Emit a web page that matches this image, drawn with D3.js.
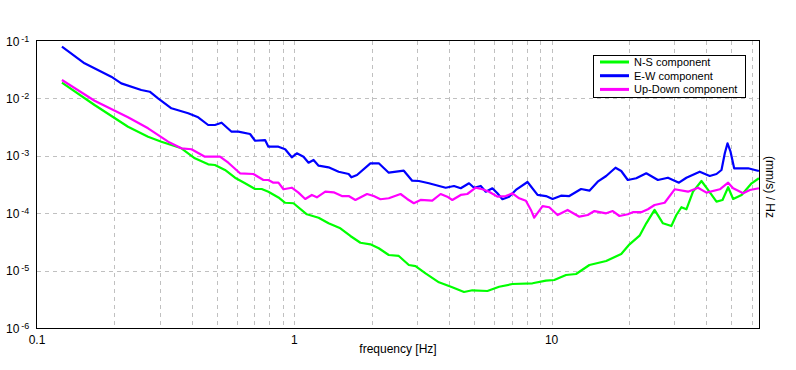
<!DOCTYPE html>
<html>
<head>
<meta charset="utf-8">
<script src="https://cdn.jsdelivr.net/npm/d3@7"></script>
<style>
  body { margin: 0; background: #fff; }
  svg { display: block; font-family: "Liberation Sans", Arial, sans-serif; }
</style>
</head>
<body>
<div id="graph"></div>
<script>
// frequency [Hz], amplitude
const nsData = [
  [0.125, 0.01877], [0.1674, 0.00767], [0.2258, 0.00321], [0.2702, 0.00215], [0.3044, 0.00176],
  [0.3642, 0.00135], [0.4107, 0.000905], [0.4628, 0.000711], [0.4914, 0.000691], [0.5379, 0.000566],
  [0.5883, 0.000415], [0.6435, 0.000332], [0.704, 0.000264], [0.7469, 0.000264], [0.7931, 0.000237],
  [0.8677, 0.000188], [0.9216, 0.000152], [0.9928, 0.000149], [1.119, 0.0000957], [1.243, 0.0000835],
  [1.359, 0.0000667], [1.51, 0.0000546], [1.652, 0.0000401], [1.807, 0.0000306], [1.976, 0.0000287],
  [2.13, 0.0000245], [2.329, 0.0000187], [2.548, 0.000018], [2.788, 0.0000125], [2.96, 0.000012],
  [3.237, 0.00000897], [3.649, 0.00000625], [4.112, 0.00000512], [4.567, 0.00000424], [4.92, 0.00000454],
  [5.63, 0.00000441], [6.254, 0.00000524], [7.046, 0.00000584], [8.431, 0.00000601], [9.51, 0.00000667],
  [10.24, 0.00000686], [11.38, 0.00000838], [12.45, 0.00000873], [14.03, 0.0000125], [16.3, 0.0000147],
  [18.65, 0.0000195], [20.09, 0.0000287], [21.98, 0.0000406], [23.34, 0.0000667], [25.14, 0.000114],
  [27.09, 0.0000667], [29.21, 0.0000598], [30.55, 0.000093], [31.96, 0.000127], [33.42, 0.000117],
  [35.46, 0.000237], [38.24, 0.000364], [40.57, 0.000254], [43.75, 0.000159], [46.17, 0.00017],
  [48.56, 0.000283], [50.78, 0.000177], [54.76, 0.000208], [59.9, 0.000332], [63.94, 0.000406]
];

const ewData = [
  [0.125, 0.0796], [0.153, 0.0409], [0.1943, 0.0239], [0.2126, 0.0183], [0.2543, 0.014], [0.2743, 0.01308],
  [0.2955, 0.01004], [0.333, 0.00672], [0.3869, 0.0055], [0.4231, 0.00469], [0.4628, 0.00344],
  [0.4914, 0.00344], [0.5217, 0.00377], [0.5706, 0.00263], [0.606, 0.00263], [0.6731, 0.0024],
  [0.704, 0.00183], [0.77, 0.00188], [0.7931, 0.00144], [0.8677, 0.00144], [0.9216, 0.0013],
  [0.9778, 0.000942], [1.023, 0.001105], [1.086, 0.000965], [1.136, 0.000758], [1.188, 0.000845],
  [1.243, 0.000672], [1.359, 0.00063], [1.487, 0.000528], [1.627, 0.000482], [1.667, 0.000422],
  [1.753, 0.000463], [1.976, 0.00074], [2.13, 0.00074], [2.329, 0.000508], [2.665, 0.00055],
  [2.872, 0.000368], [3.05, 0.000364], [3.336, 0.000332], [3.876, 0.000278], [4.176, 0.000298],
  [4.435, 0.000272], [4.777, 0.000332], [4.996, 0.000278], [5.306, 0.000298], [5.549, 0.000237],
  [5.888, 0.000272], [6.158, 0.000222], [6.442, 0.000175], [6.84, 0.000194], [7.264, 0.000254],
  [8.062, 0.00035], [8.82, 0.000208], [9.51, 0.000199], [10.09, 0.000177], [10.88, 0.000202],
  [11.72, 0.000199], [13.02, 0.000264], [14.03, 0.000247], [15.11, 0.000354], [16.3, 0.000445],
  [17.72, 0.00062], [18.65, 0.000544], [19.78, 0.000379], [21.33, 0.000406], [23.34, 0.000496],
  [25.9, 0.000379], [28.33, 0.000415], [31.27, 0.00034], [33.42, 0.000415], [37.65, 0.000528],
  [41.19, 0.000445], [43.75, 0.000482], [45.75, 0.000566], [47.13, 0.001105], [48.29, 0.001651],
  [49.61, 0.001178], [51.24, 0.000606], [58.08, 0.000606], [61.68, 0.000566], [63.94, 0.000544]
];

const udData = [
  [0.125, 0.0209], [0.1674, 0.00912], [0.2258, 0.00469], [0.2702, 0.00301], [0.3233, 0.00176],
  [0.3642, 0.00135], [0.3984, 0.0013], [0.4494, 0.000965], [0.5142, 0.000965], [0.554, 0.000758],
  [0.6153, 0.000496], [0.6935, 0.000482], [0.7584, 0.000379], [0.7931, 0.000379], [0.8297, 0.00034],
  [0.8677, 0.00034], [0.9077, 0.000261], [0.9778, 0.000278], [1.038, 0.000228], [1.103, 0.000177],
  [1.17, 0.000208], [1.224, 0.000189], [1.32, 0.000237], [1.422, 0.000231], [1.531, 0.000199],
  [1.627, 0.000199], [1.728, 0.00017], [1.917, 0.000216], [2.036, 0.000199], [2.162, 0.000175],
  [2.329, 0.000182], [2.588, 0.000216], [2.746, 0.000177], [2.915, 0.000149], [3.096, 0.00017],
  [3.437, 0.000165], [3.705, 0.000216], [3.931, 0.000194], [4.112, 0.00017], [4.435, 0.000208],
  [4.704, 0.000216], [5.074, 0.000278], [5.383, 0.000261], [5.715, 0.000237], [6.158, 0.000194],
  [6.64, 0.000199], [7.046, 0.000222], [7.483, 0.000182], [7.946, 0.000165], [8.311, 0.000114],
  [8.561, 0.0000835], [9.224, 0.000133], [9.795, 0.000127], [10.55, 0.000093], [11.54, 0.000114],
  [12.82, 0.0000869], [13.82, 0.000093], [14.67, 0.000109], [16.3, 0.0000996], [17.29, 0.000109],
  [18.36, 0.0000894], [19.78, 0.0000957], [20.69, 0.000104], [22.31, 0.000104], [23.68, 0.000117],
  [25.14, 0.000139], [27.51, 0.000152], [30.09, 0.000261], [33.91, 0.000237], [37.09, 0.000278],
  [39.99, 0.000228], [45.07, 0.000261], [48.56, 0.00034], [50.78, 0.000272], [55.55, 0.000222],
  [58.98, 0.000254], [63.94, 0.000272]
];

const seriesNames = ["N-S component", "E-W component", "Up-Down component"];
const seriesColors = ["#00ff00", "#0000ff", "#ff00ff"];
const xTickValues = [0.1, 1, 10];
const xTickLabels = ["0.1", "1", "10"];
const yTickExps = [-1, -2, -3, -4, -5, -6];

const W = 796, H = 370;
const plotLeft = 37, plotRight = 759, plotTop = 41, plotBottom = 328;

const svg = d3.select("#graph").append("svg")
    .attr("width", W)
    .attr("height", H);

const x = d3.scaleLog().domain([0.1, 64]).range([plotLeft, plotRight]);
const y = d3.scaleLog().domain([1e-6, 1e-1]).range([plotBottom, plotTop]);

// grid lines at every minor frequency
let minor = [];
for (let e = -1; e <= 1; e++) {
    for (let m = 1; m <= 9; m++) {
        const v = m * Math.pow(10, e);
        if (v > 0.1 && v < 64) minor.push(v);
    }
}
svg.append("g").selectAll("line").data(minor).enter().append("line")
    .attr("x1", d => Math.round(x(d)) + 0.5)
    .attr("x2", d => Math.round(x(d)) + 0.5)
    .attr("y1", plotTop)
    .attr("y2", plotBottom)
    .attr("stroke", "#c0c0c0")
    .attr("stroke-dasharray", "4,4");

svg.append("g").selectAll("line").data(yTickExps.slice(1, -1)).enter().append("line")
    .attr("x1", plotLeft)
    .attr("x2", plotRight)
    .attr("y1", d => Math.round(y(Math.pow(10, d))) + 0.5)
    .attr("y2", d => Math.round(y(Math.pow(10, d))) + 0.5)
    .attr("stroke", "#c0c0c0")
    .attr("stroke-dasharray", "4,4");

// curves
const line = d3.line()
    .x(d => x(d[0]))
    .y(d => y(d[1]));

const allSeries = [nsData, ewData, udData];
svg.append("g").selectAll("path").data(allSeries).enter().append("path")
    .attr("fill", "none")
    .attr("stroke", (d, i) => seriesColors[i])
    .attr("stroke-width", 2.2)
    .attr("stroke-linejoin", "round")
    .attr("d", line);

// frame
svg.append("rect")
    .attr("x", plotLeft - 0.5)
    .attr("y", plotTop - 0.5)
    .attr("width", plotRight - plotLeft + 1)
    .attr("height", plotBottom - plotTop + 1)
    .attr("fill", "none")
    .attr("stroke", "#000");

// x tick labels
svg.append("g").selectAll("text").data(xTickValues).enter().append("text")
    .attr("x", d => x(d))
    .attr("y", 344)
    .attr("text-anchor", "middle")
    .attr("font-size", 12)
    .text((d, i) => xTickLabels[i]);

svg.append("text")
    .attr("x", 398)
    .attr("y", 353)
    .attr("text-anchor", "middle")
    .attr("font-size", 12)
    .text("frequency [Hz]");

// y tick labels 10^n
const yl = svg.append("g").selectAll("text").data(yTickExps).enter().append("text")
    .attr("x", 6)
    .attr("y", d => y(Math.pow(10, d)) + 4.5)
    .attr("font-size", 12);
yl.append("tspan").text("10");
yl.append("tspan")
    .attr("dx", 2)
    .attr("dy", -4)
    .attr("font-size", 9)
    .text(d => "-" + (-d));

// right axis label
svg.append("text")
    .attr("transform", "translate(766,187) rotate(90)")
    .attr("text-anchor", "middle")
    .attr("font-size", 12)
    .text("(mm/s)  /  Hz");

// legend
const lg = svg.append("g");
lg.append("rect")
    .attr("x", 593.5)
    .attr("y", 55.5)
    .attr("width", 152)
    .attr("height", 42)
    .attr("fill", "#fff")
    .attr("stroke", "#000");
seriesNames.forEach(function(name, i) {
    const ly = 62 + i * 13.7;
    lg.append("line")
        .attr("x1", 600)
        .attr("x2", 629)
        .attr("y1", ly)
        .attr("y2", ly)
        .attr("stroke", seriesColors[i])
        .attr("stroke-width", 3);
    lg.append("text")
        .attr("x", 634)
        .attr("y", ly + 4)
        .attr("font-size", 11)
        .text(name);
});
</script>
</body>
</html>
